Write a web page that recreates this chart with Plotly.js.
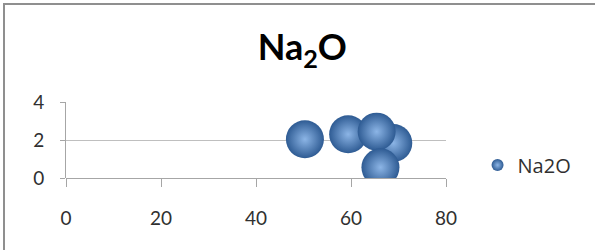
<!DOCTYPE html>
<html>
<head>
<meta charset="utf-8">
<script src="https://cdn.plot.ly/plotly-3.0.1.min.js"></script>
<style>
html,body{margin:0;padding:0;background:#fff;}
#wrap{position:relative;width:595px;height:250px;}
#chart{width:595px;height:250px;}
#frame{position:absolute;left:3px;top:3px;right:0;bottom:0;border-left:2px solid #8f8f8f;border-top:2px solid #8f8f8f;pointer-events:none;}
</style>
</head>
<body>
<div id="wrap"><div id="chart"></div><div id="frame"></div></div>
<script>
// Data (draw order: back to front)
const seriesName = "Na2O";
const xValues = [50.3, 68.9, 59.4, 65.4, 66.2];
const yValues = [2.04, 1.84, 2.3, 2.44, 0.56];
const bubbleSizes = [1, 1, 1, 1, 1];
const xTicks = [0, 20, 40, 60, 80];
const yTicks = [0, 2, 4];

const FONT = "Lato, 'Open Sans', sans-serif";
const PX_PER_SIZE = 38;

const trace = {
  type: "scatter",
  mode: "markers",
  name: seriesName,
  x: xValues,
  y: yValues,
  marker: {
    size: bubbleSizes.map(s => s * PX_PER_SIZE),
    opacity: 1,
    color: "#2e5b93",
    gradient: {type: "radial", color: "#8cb5e6"},
    line: {width: 0}
  },
  cliponaxis: true,
  showlegend: true
};

const layout = {
  width: 595,
  height: 250,
  margin: {l: 66, r: 149, t: 102, b: 72},
  paper_bgcolor: "#ffffff",
  plot_bgcolor: "#ffffff",
  font: {family: FONT, color: "#333333"},
  title: {
    text: "<b>Na<sub>2</sub>O</b>",
    font: {family: FONT, size: 36, color: "#000000"},
    x: 0.508, xref: "container", xanchor: "center",
    y: 0.81, yref: "container", yanchor: "middle"
  },
  xaxis: {
    range: [0, 80],
    tickvals: xTicks,
    ticks: "outside",
    ticklen: 8,
    tickcolor: "#a6a6a6",
    tickwidth: 1,
    ticklabelstandoff: 15,
    tickfont: {family: FONT, size: 19, color: "#303030"},
    showgrid: false,
    zeroline: false,
    showline: false,
    fixedrange: true
  },
  yaxis: {
    range: [0, 4],
    tickvals: yTicks,
    ticks: "outside",
    ticklen: 5,
    tickcolor: "#a6a6a6",
    ticklabelstandoff: 12,
    tickfont: {family: FONT, size: 19, color: "#303030"},
    showgrid: true,
    gridcolor: "#bfbfbf",
    gridwidth: 1,
    zeroline: true,
    zerolinecolor: "#a6a6a6",
    zerolinewidth: 1,
    showline: true,
    linecolor: "#a6a6a6",
    linewidth: 1,
    fixedrange: true
  },
  showlegend: true,
  legend: {
    x: 1.083, xref: "paper", xanchor: "left",
    y: 0.17, yref: "paper", yanchor: "middle",
    font: {family: "'Open Sans', sans-serif", size: 20, color: "#303030"},
    itemsizing: "constant",
    itemwidth: 30,
    bgcolor: "rgba(0,0,0,0)"
  }
};

Plotly.newPlot("chart", [trace], layout, {staticPlot: true, displayModeBar: false});
</script>
</body>
</html>
